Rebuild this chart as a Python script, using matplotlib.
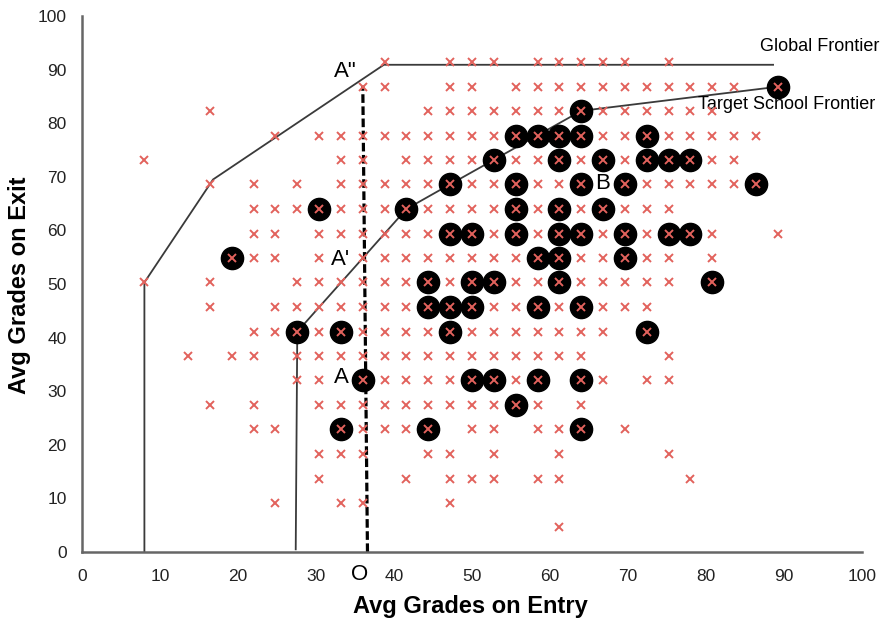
import matplotlib
matplotlib.use("Agg")
import matplotlib.pyplot as plt

plt.rcParams['font.family'] = ['Liberation Sans', 'DejaVu Sans']

# grade levels the schools sit on (entry = x, exit = y)
entry_levels = [8.0, 10.8, 13.6, 16.4, 19.2, 22.0, 24.8, 27.6, 30.4, 33.2,
                36.0, 38.8, 41.6, 44.4, 47.2, 50.0, 52.8, 55.6, 58.4, 61.2,
                64.0, 66.8, 69.6, 72.4, 75.2, 78.0, 80.8, 83.6, 86.4, 89.2]
exit_levels = [0.0, 4.6, 9.1, 13.7, 18.3, 22.9, 27.4, 32.0, 36.6, 41.1, 45.7,
               50.3, 54.9, 59.4, 64.0, 68.6, 73.1, 77.7, 82.3, 86.8, 91.4]

# all schools: exit level index -> entry level indices
schools = {
    20: [11, 14, 15, 16, 18, 19, 20, 21, 22, 24],
    19: [10, 11, 14, 15, 17, 18, 19, 20, 21, 22, 23, 24, 25, 26, 27, 29],
    18: [3, 13, 14, 15, 16, 17, 18, 19, 20, 21, 22, 23, 24, 25, 26],
    17: [6, 8, 9, 10, 11, 12, 13, 14, 15, 16, 17, 18, 19, 20, 21, 22, 23, 24, 25, 26, 27, 28],
    16: [0, 9, 10, 12, 13, 14, 15, 16, 17, 18, 19, 20, 21, 22, 23, 24, 25, 26, 27],
    15: [3, 5, 7, 9, 10, 11, 12, 13, 14, 15, 16, 17, 18, 19, 20, 22, 23, 24, 25, 26, 27, 28],
    14: [5, 6, 7, 8, 9, 10, 11, 12, 13, 14, 15, 16, 17, 18, 19, 20, 21, 22, 23, 24],
    13: [5, 6, 8, 9, 10, 11, 12, 13, 14, 15, 16, 17, 18, 19, 20, 21, 22, 23, 24, 25, 26, 29],
    12: [4, 5, 6, 8, 10, 11, 12, 13, 14, 15, 16, 17, 18, 19, 20, 21, 22, 23, 24, 26],
    11: [0, 3, 7, 8, 9, 10, 11, 12, 13, 14, 15, 16, 17, 18, 19, 20, 21, 22, 23, 24, 26],
    10: [3, 6, 7, 8, 9, 10, 11, 12, 13, 14, 15, 16, 17, 18, 19, 20, 21, 22, 23],
    9: [5, 6, 7, 8, 9, 10, 11, 12, 13, 14, 15, 16, 17, 18, 19, 20, 21, 23],
    8: [2, 4, 5, 7, 8, 9, 10, 11, 12, 13, 14, 15, 16, 17, 18, 19, 20, 24],
    7: [7, 8, 10, 11, 12, 13, 14, 15, 16, 17, 18, 20, 21, 23, 24],
    6: [3, 5, 8, 9, 10, 11, 12, 13, 14, 15, 16, 17, 18, 20],
    5: [5, 6, 9, 10, 11, 12, 13, 15, 16, 18, 19, 20, 22],
    4: [8, 9, 10, 13, 14, 16, 19, 24],
    3: [8, 12, 14, 15, 16, 18, 19, 25],
    2: [6, 9, 10, 14],
    1: [19],
}

# target (similar) schools, circled
targets = {
    19: [29],
    18: [20],
    17: [17, 18, 19, 20, 23],
    16: [16, 19, 21, 23, 24, 25],
    15: [14, 17, 20, 22, 28],
    14: [8, 12, 17, 19, 21],
    13: [14, 15, 17, 19, 20, 22, 24, 25],
    12: [4, 18, 19, 22],
    11: [13, 15, 16, 19, 26],
    10: [13, 14, 15, 18, 20],
    9: [7, 9, 14, 23],
    7: [10, 15, 16, 18, 20],
    6: [17],
    5: [9, 13, 20],
}

global_x = [8.0, 8.0, 16.8, 38.7, 88.6]
global_y = [0.0, 50.3, 69.5, 90.9, 90.9]
target_x = [27.4, 27.6, 41.6, 47.2, 64.0, 89.2]
target_y = [0.5, 41.1, 64.0, 68.6, 82.3, 86.8]
proj_x = [36.6, 36.0]
proj_y = [0.0, 87.0]

sx, sy = [], []
for k, cols in schools.items():
    for j in cols:
        sx.append(entry_levels[j])
        sy.append(exit_levels[k])
tx, ty = [], []
for k, cols in targets.items():
    for j in cols:
        tx.append(entry_levels[j])
        ty.append(exit_levels[k])

fig = plt.figure(figsize=(8.88, 6.2), dpi=100)
ax = fig.add_axes([82 / 888, 68 / 620, 780 / 888, 536 / 620])

ax.plot(global_x, global_y, color='#3a3a3a', lw=1.3, zorder=2)
ax.plot(target_x, target_y, color='#3a3a3a', lw=1.3, zorder=2)
ax.plot(proj_x, proj_y, color='black', lw=2.3, ls=(0, (2.7, 1.1)), zorder=2)

ax.plot(tx, ty, 'o', ms=16, color='black', zorder=3)
ax.plot(sx, sy, 'x', ms=5.5, mew=1.4, color='#e2625c', zorder=4, ls='none')

ax.text(33.8, 89.6, 'A"', fontsize=16, ha='center', va='center')
ax.text(33.2, 54.5, "A'", fontsize=16, ha='center', va='center')
ax.text(33.2, 32.5, 'A', fontsize=16, ha='center', va='center')
ax.text(66.8, 68.7, 'B', fontsize=16, ha='center', va='center')
ax.text(35.6, -4.2, 'O', fontsize=16, ha='center', va='center', clip_on=False)
ax.text(86.9, 94.4, 'Global Frontier', fontsize=13, ha='left', va='center', clip_on=False)
ax.text(79.0, 83.4, 'Target School Frontier', fontsize=13, ha='left', va='center', clip_on=False)

ax.set_xlim(0, 100)
ax.set_ylim(0, 100)
ax.set_xticks(range(0, 101, 10))
ax.set_yticks(range(0, 101, 10))
ax.tick_params(length=0, labelsize=12.5, colors='#222222')
ax.tick_params(axis='x', pad=12)
ax.tick_params(axis='y', pad=11)
for s in ['top', 'right']:
    ax.spines[s].set_visible(False)
for s in ['left', 'bottom']:
    ax.spines[s].set_color('#666666')
    ax.spines[s].set_linewidth(1.8)

fig.text(470 / 888, 1 - 606 / 620, 'Avg Grades on Entry', fontsize=17,
         fontweight='bold', ha='center', va='center')
fig.text(20 / 888, 1 - 285 / 620, 'Avg Grades on Exit', fontsize=17,
         fontweight='bold', ha='center', va='center', rotation=90)

fig.savefig('out.png', dpi=100)
